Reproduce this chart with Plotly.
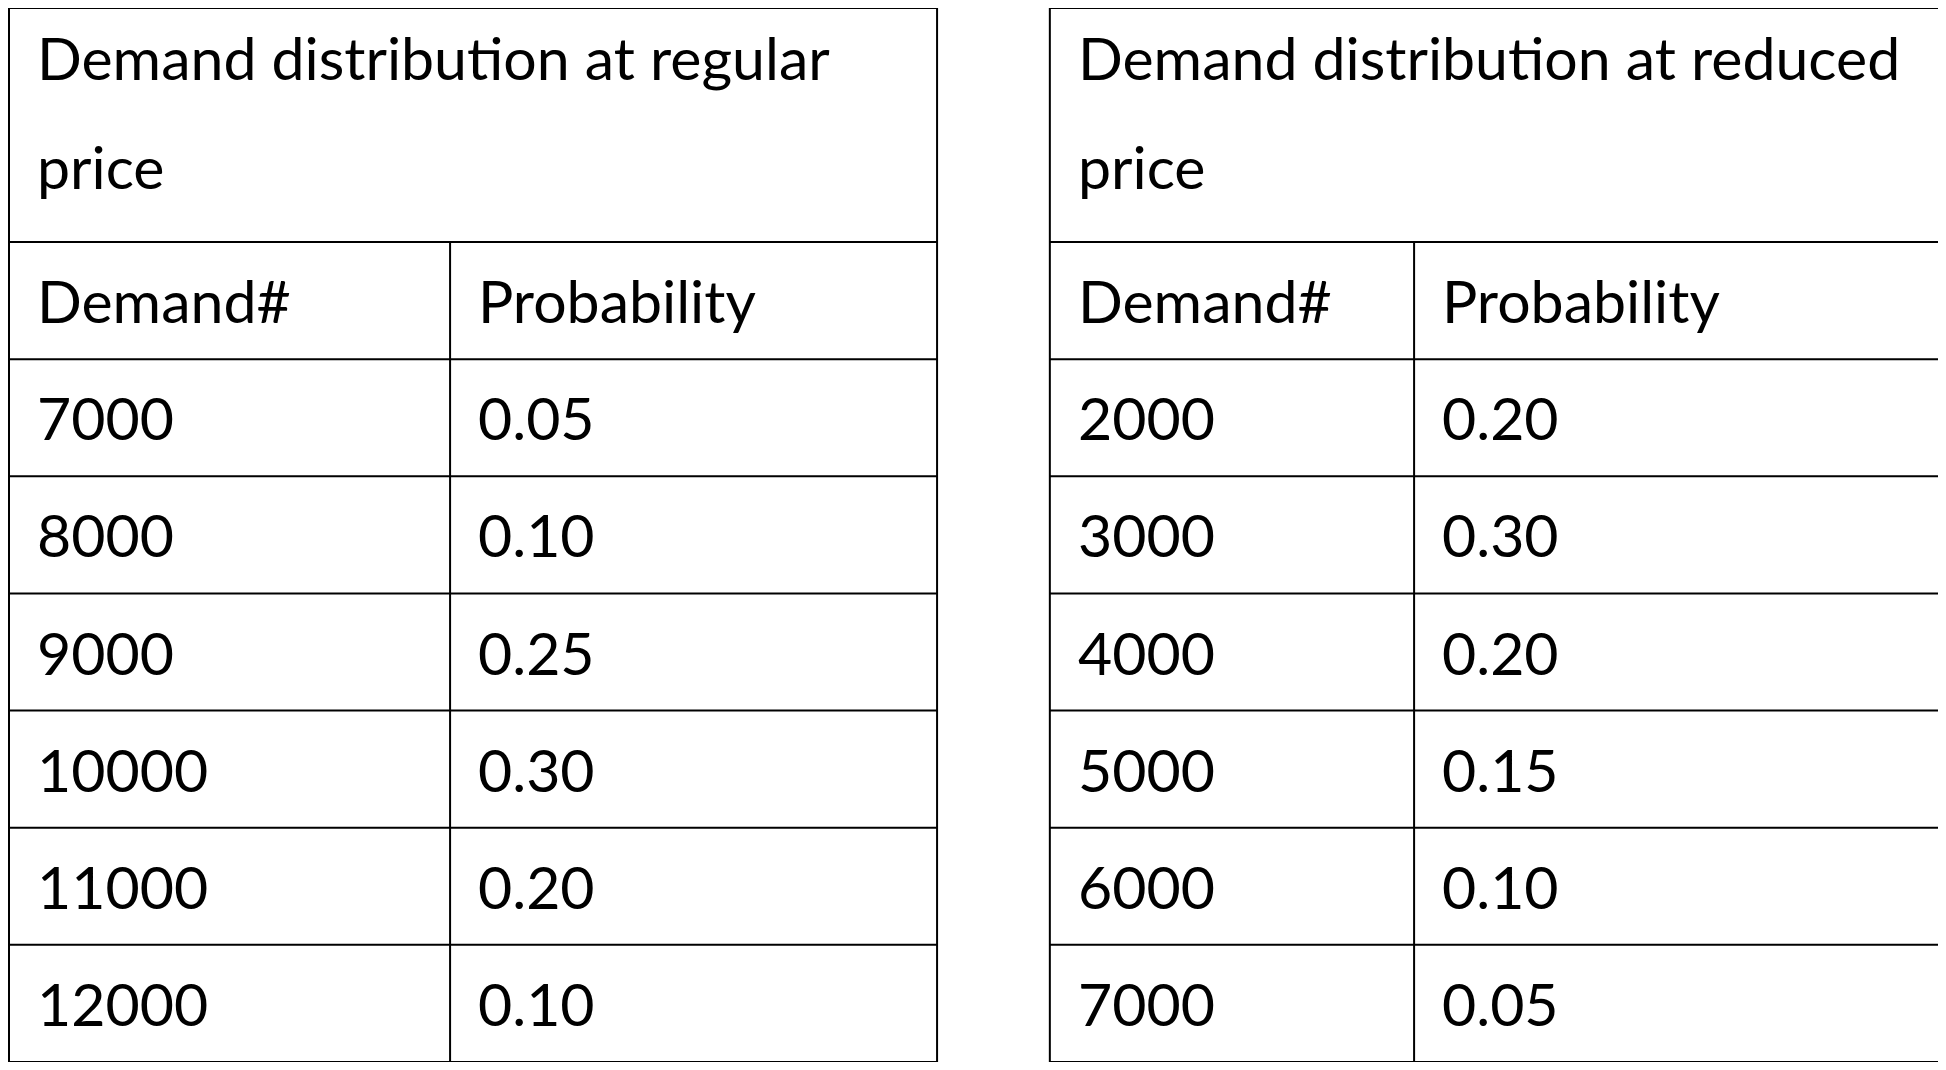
import plotly.graph_objects as go

titles = ["Demand distribution at regular", "Demand distribution at reduced"]
title_second_line = "price"
col_headers = ["Demand#", "Probability"]
regular_demand = ["7000", "8000", "9000", "10000", "11000", "12000"]
regular_prob = ["0.05", "0.10", "0.25", "0.30", "0.20", "0.10"]
reduced_demand = ["2000", "3000", "4000", "5000", "6000", "7000"]
reduced_prob = ["0.20", "0.30", "0.20", "0.15", "0.10", "0.05"]

# page body has an 8px margin, so the figure is a bit smaller than the window
OFF = 8
W, H = 1946 - 2 * OFF, 1070 - 2 * OFF
FONT = dict(family="Lato, Open Sans, sans-serif", size=59, color="black")

# layout of the two tables in window pixels
tables = [
    dict(x0=7, xm=449, x1=937, data=(regular_demand, regular_prob), title=titles[0]),
    dict(x0=1050, xm=1415, x1=1942, data=(reduced_demand, reduced_prob), title=titles[1]),
]
top, head_bottom, bottom_edge = 6, 241, 1064
row_h = (bottom_edge - head_bottom) / 7.0
pad = 26

shapes, annotations = [], []


def line(x0, y0, x1, y1):
    shapes.append(dict(type="line", x0=x0 - OFF, y0=y0 - OFF, x1=x1 - OFF, y1=y1 - OFF,
                       xref="x", yref="y", line=dict(color="black", width=2)))


def text(x, y, s):
    annotations.append(dict(x=x - OFF, y=y - OFF, xref="x", yref="y", text=s, showarrow=False,
                            xanchor="left", yanchor="middle", font=FONT))


for t in tables:
    demand, prob = t["data"]
    bottom = head_bottom + row_h * (len(demand) + 1)
    line(t["x0"], top, t["x1"], top)
    line(t["x0"], top, t["x0"], bottom)
    line(t["x1"], top, t["x1"], bottom)
    for i in range(len(demand) + 2):
        y = head_bottom + row_h * i
        line(t["x0"], y, t["x1"], y)
    line(t["xm"], head_bottom, t["xm"], bottom)
    # merged title cell
    text(t["x0"] + pad, 56, t["title"])
    text(t["x0"] + pad, 165, title_second_line)
    rows = [col_headers] + list(zip(demand, prob))
    for i, (a, b) in enumerate(rows):
        yc = head_bottom + row_h * (i + 0.5)
        text(t["x0"] + pad, yc, a)
        text(t["xm"] + pad, yc, b)

fig = go.Figure()
fig.update_layout(
    width=W, height=H, margin=dict(l=0, r=0, t=0, b=0),
    paper_bgcolor="white", plot_bgcolor="white",
    xaxis=dict(range=[-2, W + 2], visible=False, fixedrange=True),
    yaxis=dict(range=[H + 2, -2], visible=False, fixedrange=True),
    shapes=shapes, annotations=annotations, showlegend=False,
)
fig.write_html("out.html")
